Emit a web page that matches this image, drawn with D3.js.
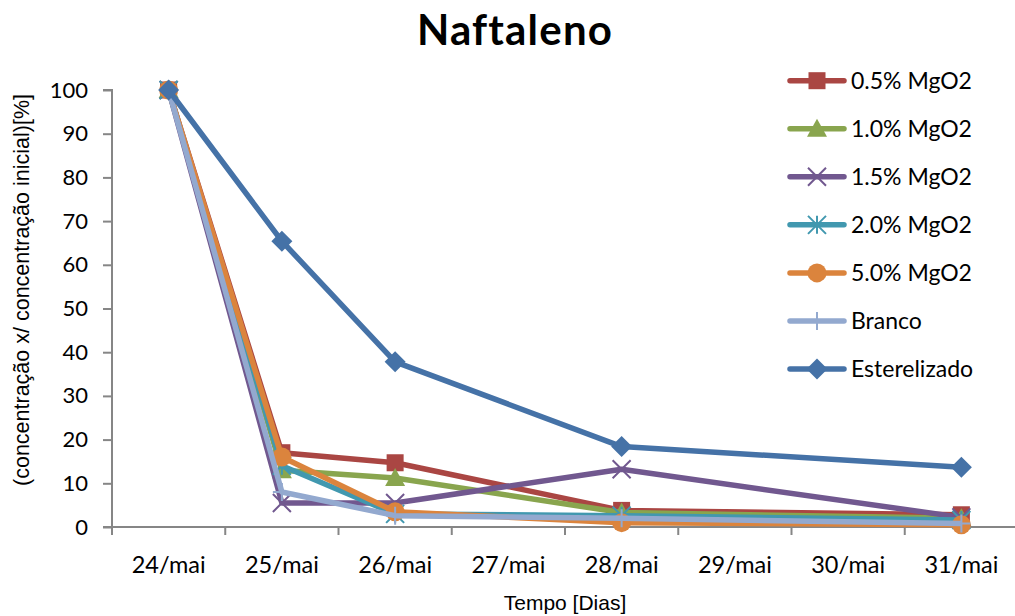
<!DOCTYPE html>
<html>
<head>
<meta charset="utf-8">
<script src="https://cdn.jsdelivr.net/npm/d3@7"></script>
<style>
  html, body { margin: 0; padding: 0; background: #fff; }
  svg { display: block; font-family: Lato, "Open Sans", sans-serif; }
</style>
</head>
<body>
<svg id="chart" width="1015" height="616"></svg>
<script>
// Category axis (days) and the days that have measurements
const categories = ["24/mai", "25/mai", "26/mai", "27/mai", "28/mai", "29/mai", "30/mai", "31/mai"];
const sampleDays = ["24/mai", "25/mai", "26/mai", "28/mai", "31/mai"];
const yTicks = [0, 10, 20, 30, 40, 50, 60, 70, 80, 90, 100];

// Relative concentration (%) per series, one value per sample day
const mgo05 = [100, 17.0, 14.7, 3.8, 2.8];
const mgo10 = [100, 13.0, 11.2, 3.3, 2.0];
const mgo15 = [100, 5.5, 5.5, 13.2, 2.2];
const mgo20 = [100, 14.0, 3.0, 2.6, 1.6];
const mgo50 = [100, 16.0, 3.5, 1.0, 0.5];
const branco = [100, 8.0, 2.6, 2.0, 0.8];
const esterelizado = [100, 65.4, 37.8, 18.4, 13.7];

const seriesNames = ["0.5% MgO2", "1.0% MgO2", "1.5% MgO2", "2.0% MgO2", "5.0% MgO2", "Branco", "Esterelizado"];
const seriesValues = [mgo05, mgo10, mgo15, mgo20, mgo50, branco, esterelizado];
const seriesColors = ["#AA4643", "#89A54E", "#71588F", "#4198AF", "#DB843D", "#93A9CF", "#4572A7"];
const seriesMarkers = ["square", "triangle", "x", "asterisk", "circle", "plus", "diamond"];

const svg = d3.select("#chart");
const plot = { left: 112, right: 1018, top: 90, bottom: 527 };

const x = d3.scaleBand().domain(categories).range([plot.left, plot.right]);
const y = d3.scaleLinear().domain([0, 100]).range([plot.bottom, plot.top]);
const cx = d => x(d) + x.bandwidth() / 2;

// Title
svg.append("text")
  .attr("x", 515).attr("y", 45)
  .attr("text-anchor", "middle")
  .attr("font-size", 42).attr("font-weight", "bold")
  .attr("letter-spacing", 1.2)
  .attr("fill", "#000")
  .text("Naftaleno");

// Y axis
const yAxis = d3.axisLeft(y).tickValues(yTicks).tickSize(9).tickPadding(15);
const gy = svg.append("g").attr("transform", `translate(${plot.left},0)`).call(yAxis);
gy.select(".domain").attr("stroke", "#868686").attr("stroke-width", 2).attr("d", `M-9,${plot.top}H0V${plot.bottom}`);
gy.selectAll(".tick line").attr("stroke", "#868686").attr("stroke-width", 2);
gy.selectAll(".tick text").attr("font-size", 22).attr("fill", "#000").attr("font-family", "Lato, sans-serif");

// X axis: boundary ticks between categories, labels centred in bands
const gx = svg.append("g").attr("transform", `translate(0,${plot.bottom})`);
gx.append("line")
  .attr("x1", plot.left - 9).attr("x2", 1015)
  .attr("stroke", "#868686").attr("stroke-width", 2);
const boundaries = categories.map(c => x(c)).concat([plot.right]);
gx.selectAll(".btick").data(boundaries).join("line")
  .attr("x1", d => d).attr("x2", d => d)
  .attr("y1", 0).attr("y2", 8)
  .attr("stroke", "#868686").attr("stroke-width", 2);
gx.selectAll(".xlab").data(categories).join("text")
  .attr("x", d => cx(d)).attr("y", 46)
  .attr("text-anchor", "middle")
  .attr("font-size", 23.5).attr("fill", "#000")
  .text(d => d);

// Axis titles
svg.append("text")
  .attr("x", (plot.left + plot.right) / 2).attr("y", 610)
  .attr("text-anchor", "middle")
  .attr("font-family", "Liberation Sans, Arial, sans-serif")
  .attr("font-size", 21).attr("fill", "#000")
  .text("Tempo [Dias]");
svg.append("text")
  .attr("transform", `translate(29,290) rotate(-90)`)
  .attr("text-anchor", "middle")
  .attr("font-family", "Liberation Sans, Arial, sans-serif")
  .attr("font-size", 21.5).attr("fill", "#000")
  .text("(concentração x/ concentração inicial)[%]");

// Marker drawing
function drawMarker(g, type, color, px, py) {
  const s = 9;
  if (type === "square") {
    g.append("rect").attr("x", px - 8.5).attr("y", py - 8.5).attr("width", 17).attr("height", 17).attr("fill", color);
  } else if (type === "triangle") {
    g.append("path").attr("d", `M${px},${py - 10}L${px + 10},${py + 8}L${px - 10},${py + 8}Z`).attr("fill", color);
  } else if (type === "diamond") {
    g.append("path").attr("d", `M${px},${py - 10.5}L${px + 10.5},${py}L${px},${py + 10.5}L${px - 10.5},${py}Z`).attr("fill", color);
  } else if (type === "circle") {
    g.append("circle").attr("cx", px).attr("cy", py).attr("r", 9.5).attr("fill", color);
  } else if (type === "x") {
    g.append("path").attr("d", `M${px - s},${py - s}L${px + s},${py + s}M${px + s},${py - s}L${px - s},${py + s}`)
      .attr("stroke", color).attr("stroke-width", 2);
  } else if (type === "asterisk") {
    g.append("path").attr("d", `M${px - s},${py - s}L${px + s},${py + s}M${px + s},${py - s}L${px - s},${py + s}M${px},${py - s}V${py + s}`)
      .attr("stroke", color).attr("stroke-width", 2);
  } else if (type === "plus") {
    g.append("path").attr("d", `M${px - s},${py}H${px + s}M${px},${py - s}V${py + s}`)
      .attr("stroke", color).attr("stroke-width", 2);
  }
}

// Series lines and markers
const line = d3.line().x(d => cx(d.day)).y(d => y(d.v));
seriesValues.forEach((vals, i) => {
  const pts = sampleDays.map((day, j) => ({ day, v: vals[j] }));
  const g = svg.append("g");
  g.append("path").datum(pts)
    .attr("d", line)
    .attr("fill", "none")
    .attr("stroke", seriesColors[i])
    .attr("stroke-width", 5.5)
    .attr("stroke-linejoin", "round");
  pts.forEach(p => drawMarker(g, seriesMarkers[i], seriesColors[i], cx(p.day), y(p.v)));
});

// Legend
const legend = svg.append("g");
seriesNames.forEach((name, i) => {
  const ly = 80.7 + i * 48.05;
  const g = legend.append("g");
  g.append("line").attr("x1", 790).attr("x2", 844).attr("y1", ly).attr("y2", ly)
    .attr("stroke", seriesColors[i]).attr("stroke-width", 5.5).attr("stroke-linecap", "round");
  drawMarker(g, seriesMarkers[i], seriesColors[i], 817, ly);
  g.append("text").attr("x", 851).attr("y", ly + 8)
    .attr("font-size", 23).attr("fill", "#000")
    .text(name);
});
</script>
</body>
</html>
